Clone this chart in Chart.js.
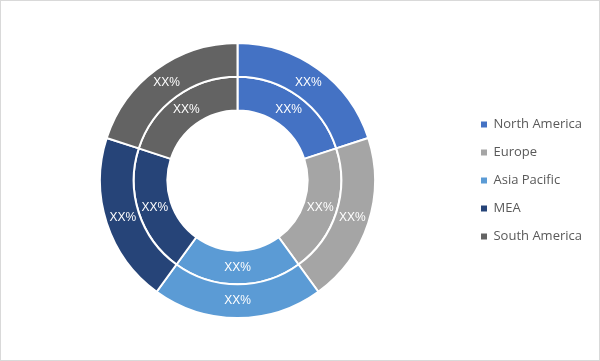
<!DOCTYPE html>
<html>
<head>
<meta charset="utf-8">
<script src="https://cdn.jsdelivr.net/npm/chart.js@4/dist/chart.umd.min.js"></script>
<style>
  html, body { margin: 0; padding: 0; background: #fff; }
  #wrap { width: 600px; height: 361px; position: relative; }
</style>
</head>
<body>
<div id="wrap"><canvas id="regionChart" width="600" height="361"></canvas></div>
<script>
// 数据
var regions = ['North America', 'Europe', 'Asia Pacific', 'MEA', 'South America'];
var outerShare = [20, 20, 20, 20, 20];
var innerShare = [20, 20, 20, 20, 20];
var outerText = ['XX%', 'XX%', 'XX%', 'XX%', 'XX%'];
var innerText = ['XX%', 'XX%', 'XX%', 'XX%', 'XX%'];
var regionColors = ['#4472C4', '#A5A5A5', '#5B9BD5', '#264478', '#636363'];

// 在每个扇区中心写标签
var sliceLabels = {
    id: 'sliceLabels',
    afterDatasetsDraw: function (chart) {
        var ctx = chart.ctx;
        var texts = [outerText, innerText];
        ctx.save();
        ctx.fillStyle = '#ffffff';
        ctx.font = '12px "Liberation Sans", Arial, sans-serif';
        ctx.textAlign = 'center';
        ctx.textBaseline = 'middle';
        chart.data.datasets.forEach(function (ds, i) {
            chart.getDatasetMeta(i).data.forEach(function (arc, j) {
                var p = arc.getCenterPoint();
                ctx.fillText(texts[i][j], p.x, p.y);
            });
        });
        ctx.restore();
    }
};

// 外框
var frame = {
    id: 'frame',
    afterDraw: function (chart) {
        var ctx = chart.ctx;
        ctx.save();
        ctx.strokeStyle = '#d9d9d9';
        ctx.lineWidth = 1;
        ctx.strokeRect(0.5, 0.5, chart.width - 1, chart.height - 1);
        ctx.restore();
    }
};

var regionChart = new Chart(document.getElementById('regionChart').getContext('2d'), {
    type: 'doughnut',
    data: {
        labels: regions,
        datasets: [{
            data: outerShare,
            backgroundColor: regionColors,
            borderColor: '#ffffff',
            borderWidth: 2
        },
        {
            data: innerShare,
            backgroundColor: regionColors,
            borderColor: '#ffffff',
            borderWidth: 2
        }]
    },
    options: {
        responsive: false,
        animation: false,
        cutout: '51%',
        layout: {
            padding: { top: 42, bottom: 42, left: 9, right: 8 }
        },
        plugins: {
            tooltip: { enabled: false },
            legend: {
                position: 'right',
                labels: {
                    boxWidth: 6,
                    boxHeight: 6,
                    padding: 15,
                    color: '#595959',
                    font: { family: '"Open Sans", sans-serif', size: 13 },
                    generateLabels: function (chart) {
                        var items = Chart.controllers.doughnut.overrides.plugins.legend.labels.generateLabels(chart);
                        items.forEach(function (it) { it.lineWidth = 0; it.strokeStyle = it.fillStyle; });
                        return items;
                    }
                }
            }
        }
    },
    plugins: [sliceLabels, frame]
});
</script>
</body>
</html>
